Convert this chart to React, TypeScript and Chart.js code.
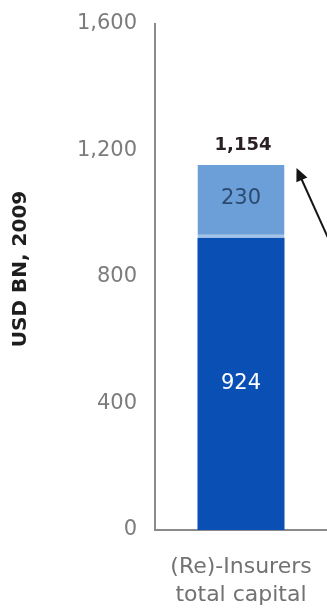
import React, { useEffect, useRef } from 'react';
import { Chart, registerables } from 'chart.js';

Chart.register(...registerables);

// ---- data ----
const categories: string[][] = [['(Re)-Insurers', 'total capital']];
const baseValues: number[] = [924];
const topValues: number[] = [230];
const totals: number[] = [1154];
const yMin = 0;
const yMax = 1600;
const yStep = 400;
const yTitle = 'USD BN, 2009';

const FONT = "'DejaVu Sans', 'Liberation Sans', Arial, sans-serif";
const DARK_BLUE = '#0a50b4';
const LIGHT_BLUE = '#6c9fd8';
const AXIS_COLOR = '#8a8a8a';

export default function App() {
  const ref = useRef<HTMLCanvasElement | null>(null);

  useEffect(() => {
    if (!ref.current) return;

    const decoPlugin = {
      id: 'deco',
      afterDatasetsDraw(chart: any) {
        const ctx = chart.ctx;
        const yScale = chart.scales.y;
        const area = chart.chartArea;
        const metaBase = chart.getDatasetMeta(0);
        const metaTop = chart.getDatasetMeta(1);
        ctx.save();
        ctx.textAlign = 'center';
        ctx.textBaseline = 'middle';

        metaBase.data.forEach((bar: any, i: number) => {
          const p = bar.getProps(['x', 'y', 'base', 'width'], true);
          ctx.fillStyle = '#ffffff';
          ctx.font = `21px ${FONT}`;
          ctx.fillText(String(baseValues[i]), p.x, (p.y + p.base) / 2);
        });

        metaTop.data.forEach((bar: any, i: number) => {
          const p = bar.getProps(['x', 'y', 'base', 'width'], true);
          ctx.fillStyle = '#2b4a70';
          ctx.font = `21px ${FONT}`;
          ctx.fillText(String(topValues[i]), p.x, (p.y + p.base) / 2 - 3);

          // total above bar
          ctx.fillStyle = '#2a2024';
          ctx.font = `bold 18px ${FONT}`;
          ctx.fillText(totals[i].toLocaleString('en-US'), p.x + 2, yScale.getPixelForValue(totals[i]) - 20);

          // arrow pointing at bar top-right
          const tipX = p.x + p.width / 2 + 12;
          const tipY = yScale.getPixelForValue(totals[i]) + 3;
          const tailX = area.right + 1;
          const tailY = yScale.getPixelForValue(baseValues[i]);
          const ang = Math.atan2(tipY - tailY, tipX - tailX);
          const headLen = 13;
          const headW = 6;
          ctx.strokeStyle = '#151515';
          ctx.fillStyle = '#151515';
          ctx.lineWidth = 2;
          ctx.beginPath();
          ctx.moveTo(tailX, tailY);
          ctx.lineTo(tipX - Math.cos(ang) * headLen * 0.8, tipY - Math.sin(ang) * headLen * 0.8);
          ctx.stroke();
          ctx.beginPath();
          ctx.moveTo(tipX, tipY);
          const bx = tipX - Math.cos(ang) * headLen;
          const by = tipY - Math.sin(ang) * headLen;
          ctx.lineTo(bx + Math.sin(ang) * headW, by - Math.cos(ang) * headW);
          ctx.lineTo(bx - Math.sin(ang) * headW, by + Math.cos(ang) * headW);
          ctx.closePath();
          ctx.fill();
        });

        // y-axis title
        ctx.translate(21, (area.top + area.bottom) / 2 - 8);
        ctx.rotate(-Math.PI / 2);
        ctx.fillStyle = '#1e1e1e';
        ctx.font = `bold 20px ${FONT}`;
        ctx.fillText(yTitle, 0, 0);
        ctx.restore();
      },
    };

    const chart = new Chart(ref.current, {
      type: 'bar',
      data: {
        labels: categories as any,
        datasets: [
          {
            label: 'base',
            data: baseValues,
            backgroundColor: DARK_BLUE,
            borderWidth: 0,
            barPercentage: 0.506,
            categoryPercentage: 1,
          },
          {
            label: 'top',
            data: topValues,
            backgroundColor: LIGHT_BLUE,
            borderColor: '#a3c4ea',
            borderWidth: { top: 0, left: 0, right: 0, bottom: 3 } as any,
            borderSkipped: false,
            barPercentage: 0.506,
            categoryPercentage: 1,
          },
        ],
      },
      options: {
        responsive: false,
        animation: false,
        devicePixelRatio: 1,
        layout: { padding: { top: 24, right: 0, bottom: 0, left: 0 } },
        plugins: {
          legend: { display: false },
          tooltip: { enabled: false },
        },
        scales: {
          x: {
            stacked: true,
            grid: { display: false, drawTicks: false },
            border: { display: true, color: AXIS_COLOR, width: 2 },
            ticks: {
              color: '#727272',
              font: { family: FONT, size: 22, lineHeight: 1.27 },
              padding: 23,
              maxRotation: 0,
              autoSkip: false,
            },
            afterFit(scale: any) {
              scale.height = 80;
              scale.paddingLeft = 0;
              scale.paddingRight = 0;
            },
          },
          y: {
            stacked: true,
            min: yMin,
            max: yMax,
            grid: { display: false, drawTicks: false },
            border: { display: true, color: AXIS_COLOR, width: 2 },
            ticks: {
              stepSize: yStep,
              color: '#7c7c7c',
              font: { family: FONT, size: 21 },
              padding: 18,
              callback: (v: any) => Number(v).toLocaleString('en-US'),
            },
            afterFit(scale: any) {
              scale.width = 155;
              scale.paddingTop = 0;
              scale.paddingBottom = 0;
            },
          },
        },
      },
      plugins: [decoPlugin],
    });

    return () => chart.destroy();
  }, []);

  return (
    <div style={{ position: 'absolute', left: 0, top: 0, width: 327, height: 610, background: '#fff' }}>
      <canvas ref={ref} width={327} height={610} style={{ display: 'block' }} />
    </div>
  );
}
